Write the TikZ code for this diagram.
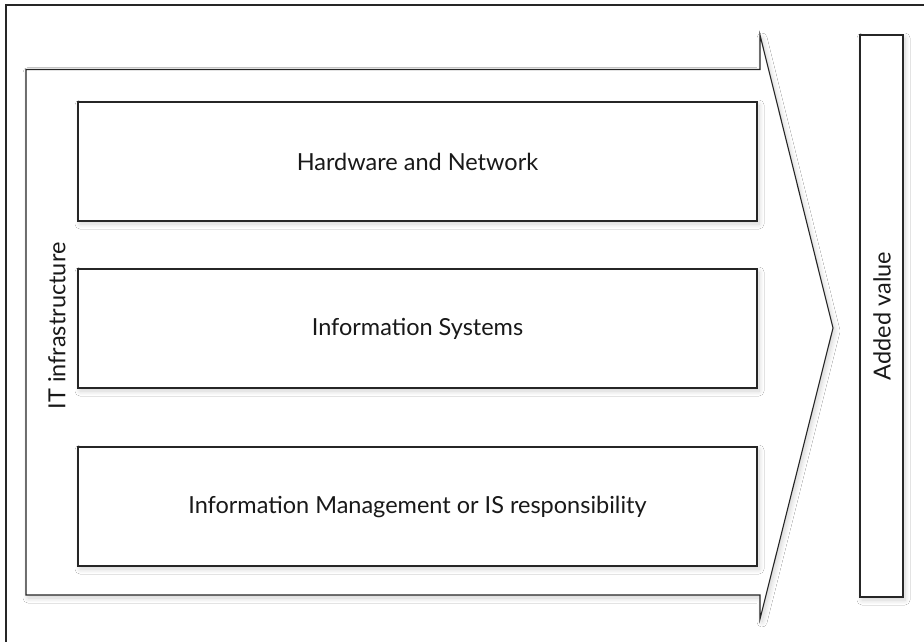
\documentclass[tikz,border=0pt]{standalone}
\usepackage{fontspec}
\setmainfont{Lato}
\usetikzlibrary{shadows.blur}
\tikzset{
  shade/.style={blur shadow={shadow blur steps=10, shadow xshift=2pt, shadow yshift=-3pt, shadow opacity=18, shadow blur radius=5pt}},
  box/.style={draw=black!85, line width=1.1pt, fill=white, shade},
  lbl/.style={font=\fontsize{23.5}{27}\selectfont, text=black!90, inner sep=0pt},
}
\begin{document}
\begin{tikzpicture}[x=1pt,y=-1pt]
\useasboundingbox (0,0) rectangle (924,641);
\fill[white] (0,0) rectangle (924,641);
% outer frame
\draw[black!85, line width=1.1pt] (6,645) -- (6,5) -- (930,5);
% big arrow
\draw[box] (26,69.5) -- (760,69.5) -- (760,35) -- (833,328) -- (760,619) -- (760,595) -- (26,595) -- cycle;
% inner boxes
\draw[box] (78,102) rectangle (757,221);
\draw[box] (78,269) rectangle (757,388);
\draw[box] (78,447) rectangle (757,566);
\draw[box] (860,35) rectangle (903,597);
\node[lbl] (hw) at (417.5,162) {Hardware and Network};
\node[lbl] (is) at (417.5,329) {Information Systems};
\node[lbl] (im) at (417.5,507) {Information Management or IS responsibility};
\node[lbl, rotate=90] (it) at (57,326) {IT infrastructure};
\node[lbl, rotate=90] (av) at (882,316) {Added value};
\end{tikzpicture}
\end{document}
